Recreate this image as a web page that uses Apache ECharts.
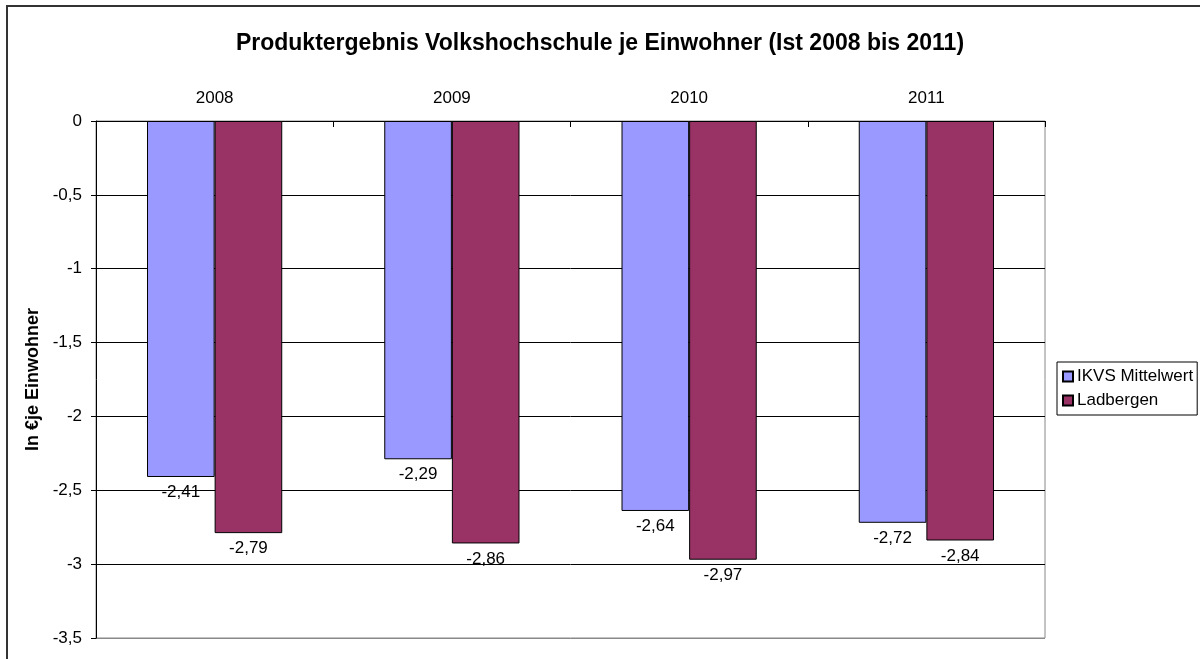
<!DOCTYPE html>
<html>
<head>
<meta charset="utf-8">
<script src="https://cdn.jsdelivr.net/npm/echarts@6/dist/echarts.min.js"></script>
<style>
  html, body { margin: 0; padding: 0; background: #fff; }
  #chart { width: 1200px; height: 659px; }
</style>
</head>
<body>
<div id="chart"></div>
<script>
// Werte aus dem Diagramm
var years = ['2008', '2009', '2010', '2011'];
var ikvsMittelwert = [-2.41, -2.29, -2.64, -2.72];
var ladbergen = [-2.79, -2.86, -2.97, -2.84];
var seriesNames = ['IKVS Mittelwert', 'Ladbergen'];

var myChart = echarts.init(document.getElementById('chart'));

function komma(v) {
  return String(v).replace('.', ',');
}

var labelCfg = {
  show: true,
  position: 'bottom',
  distance: 7,
  color: '#000',
  fontFamily: 'Liberation Sans, Arial',
  fontSize: 17,
  formatter: function (p) { return komma(p.value); }
};

var option = {
  backgroundColor: '#fff',
  animation: false,
  textStyle: { fontFamily: 'Liberation Sans, Arial' },
  title: {
    text: 'Produktergebnis Volkshochschule je Einwohner (Ist 2008 bis 2011)',
    left: 'center',
    top: 27,
    textStyle: { fontSize: 23, fontWeight: 'bold', color: '#000', fontFamily: 'Liberation Sans, Arial' }
  },
  graphic: [
    {
      type: 'rect',
      shape: { x: 7, y: 6, width: 1250, height: 700 },
      style: { fill: 'none', stroke: '#333', lineWidth: 2 },
      silent: true
    },
    {
      // rechter/unterer Rahmen der Zeichenfläche
      type: 'rect',
      shape: { x: 96, y: 121, width: 949, height: 517 },
      style: { fill: 'none', stroke: '#888', lineWidth: 1 },
      silent: true,
      z: -1
    }
  ],
  legend: {
    data: seriesNames,
    orient: 'vertical',
    left: 1057,
    top: 362,
    itemWidth: 10,
    itemHeight: 10,
    itemGap: 7,
    padding: [6, 4, 6, 5],
    borderColor: '#000',
    borderWidth: 1,
    icon: 'rect',
    textStyle: { fontSize: 17, color: '#000', padding: [0, 0, 0, -1] }
  },
  grid: {
    left: 96,
    right: 155,
    top: 121,
    bottom: 21
  },
  xAxis: {
    type: 'category',
    position: 'top',
    data: years,
    axisLine: { show: true, lineStyle: { color: '#000', width: 1 } },
    axisTick: { show: true, inside: true, length: 6, lineStyle: { color: '#000' } },
    axisLabel: { color: '#000', fontSize: 17, margin: 14 }
  },
  yAxis: {
    type: 'value',
    min: -3.5,
    max: 0,
    interval: 0.5,
    name: 'In €je Einwohner',
    nameLocation: 'middle',
    nameRotate: 90,
    nameGap: 52,
    nameTextStyle: { fontSize: 18, fontWeight: 'bold', color: '#000' },
    axisLine: { show: true, lineStyle: { color: '#000', width: 1 } },
    axisTick: { show: true, length: 5, lineStyle: { color: '#000' } },
    axisLabel: {
      color: '#000',
      fontSize: 17,
      margin: 14,
      formatter: function (v) { return komma(v); }
    },
    splitLine: {
      show: true,
      lineStyle: { color: ['#888', '#000', '#000', '#000', '#000', '#000', '#000', '#000'], width: 1 }
    }
  },
  series: [
    {
      name: seriesNames[0],
      type: 'bar',
      data: ikvsMittelwert,
      barGap: '0%',
      barCategoryGap: '43%',
      itemStyle: { color: '#9999FF', borderColor: '#000', borderWidth: 1 },
      label: labelCfg
    },
    {
      name: seriesNames[1],
      type: 'bar',
      data: ladbergen,
      barGap: '0%',
      barCategoryGap: '43%',
      itemStyle: { color: '#993366', borderColor: '#000', borderWidth: 1 },
      label: labelCfg
    }
  ]
};

myChart.setOption(option);
window.addEventListener('resize', function () {
  myChart.resize();
});
</script>
</body>
</html>
